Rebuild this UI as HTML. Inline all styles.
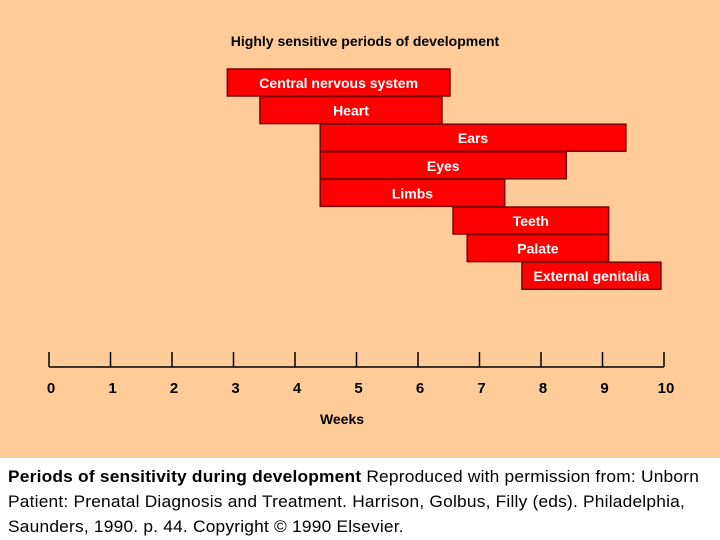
<!DOCTYPE html>
<html><head><meta charset="utf-8"><style>
body{margin:0;width:720px;height:540px;overflow:hidden;background:#fff;font-family:"Liberation Sans",sans-serif}
#bg{position:absolute;left:0;top:0;width:720px;height:458px;background:#FFCC99}
#cap{position:absolute;left:8px;top:464px;font-size:17px;line-height:25px;color:#000;transform:scaleX(1.02);transform-origin:0 0;width:830px;letter-spacing:0.2px;white-space:nowrap}
</style></head><body>
<div id="bg"></div>
<svg id="chart" width="720" height="458" style="position:absolute;left:0;top:0">
<text x="365" y="46" text-anchor="middle" font-size="14" font-weight="bold" fill="#000">Highly sensitive periods of development</text>
<g id="bars"></g><g id="axis"></g>
<text x="342" y="424" text-anchor="middle" font-size="14" font-weight="bold" fill="#000">Weeks</text>
</svg>
<div id="cap"><b>Periods of sensitivity during development</b> Reproduced with permission from: Unborn<br>Patient: Prenatal Diagnosis and Treatment. Harrison, Golbus, Filly (eds). Philadelphia,<br>Saunders, 1990. p. 44. Copyright © 1990 Elsevier.</div>
<script>
const categories=["Central nervous system","Heart","Ears","Eyes","Limbs","Teeth","Palate","External genitalia"];
const startWeeks=[2.9,3.43,4.41,4.41,4.41,6.57,6.8,7.69];
const endWeeks=[6.52,6.39,9.38,8.41,7.41,9.1,9.1,9.95];
const ticks=[0,1,2,3,4,5,6,7,8,9,10];
const NS="http://www.w3.org/2000/svg";
function x(w){return 49+61.5*w;}
function y(i){return 69+i*27.6;}
const bars=document.getElementById('bars');
categories.forEach((c,i)=>{
 const x0=x(startWeeks[i]),x1=x(endWeeks[i]);
 const r=document.createElementNS(NS,'rect');
 r.setAttribute('x',x0);r.setAttribute('y',y(i));r.setAttribute('width',x1-x0);r.setAttribute('height',27);
 r.setAttribute('fill','#FF0000');r.setAttribute('stroke','#7a0000');r.setAttribute('stroke-width','1.5');
 
 
 bars.appendChild(r);
 const t=document.createElementNS(NS,'text');
 t.setAttribute('x',(x0+x1)/2);t.setAttribute('y',y(i)+19);t.setAttribute('text-anchor','middle');
 t.setAttribute('font-size','14');t.setAttribute('font-weight','bold');t.setAttribute('fill','#fff');
 t.textContent=c;
 
 
 bars.appendChild(t);
});
const ax=document.getElementById('axis');
const L=document.createElementNS(NS,'line');
L.setAttribute('x1',x(0));L.setAttribute('x2',x(10));L.setAttribute('y1',367);L.setAttribute('y2',367);L.setAttribute('stroke','#000');L.setAttribute('stroke-width','1.5');


ax.appendChild(L);
ticks.forEach(v=>{
 const l=document.createElementNS(NS,'line');
 l.setAttribute('x1',x(v));l.setAttribute('x2',x(v));l.setAttribute('y1',352);l.setAttribute('y2',367);l.setAttribute('stroke','#000');l.setAttribute('stroke-width','1.5');
 
 
 ax.appendChild(l);
 const t=document.createElementNS(NS,'text');
 t.setAttribute('x',x(v)+2);t.setAttribute('y',393);t.setAttribute('text-anchor','middle');t.setAttribute('font-size','15');t.setAttribute('font-weight','bold');
 t.textContent=v;
 
 
 ax.appendChild(t);
});
</script>
</body></html>
